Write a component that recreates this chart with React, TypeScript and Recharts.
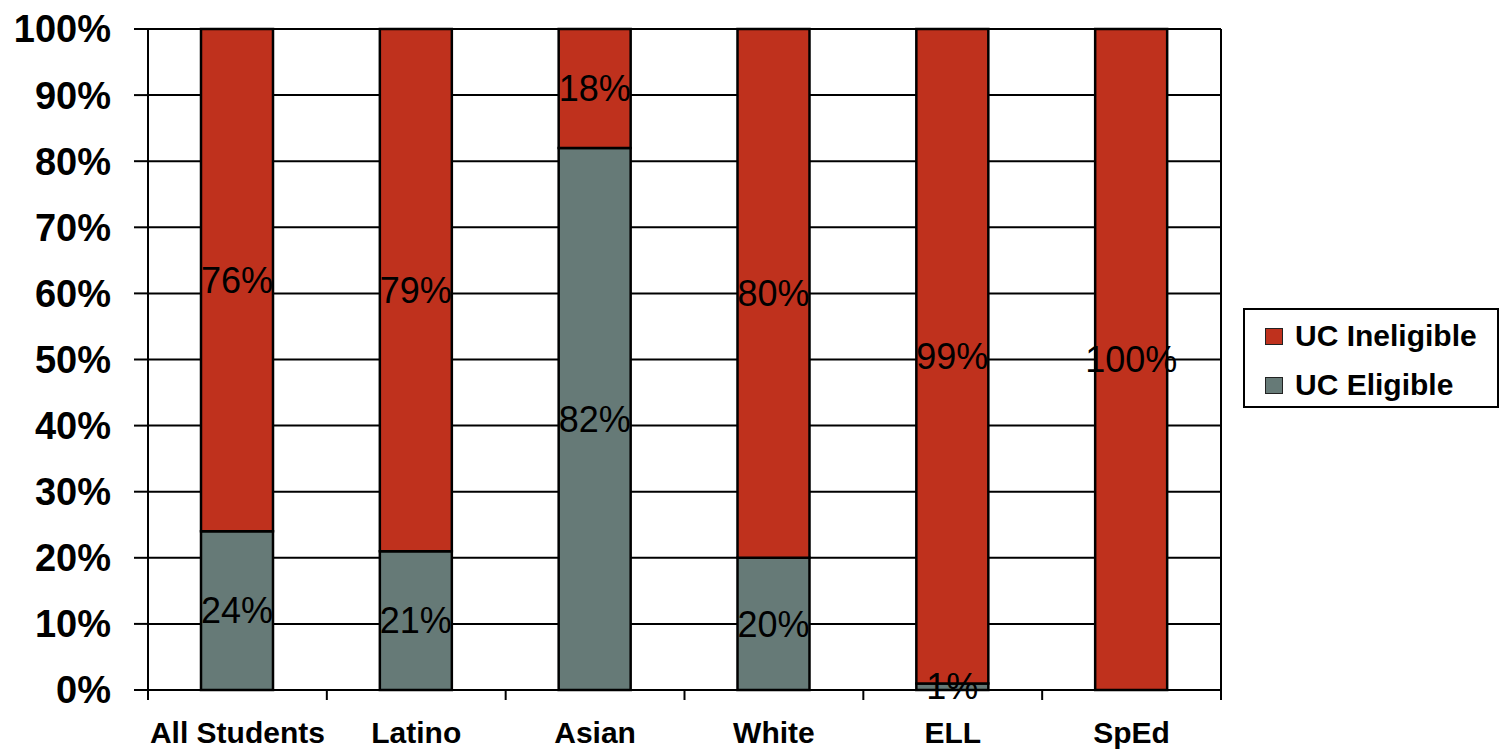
import React from 'react';
import { BarChart, Bar, XAxis, YAxis, CartesianGrid, Legend, LabelList } from 'recharts';

const categories = ['All Students', 'Latino', 'Asian', 'White', 'ELL', 'SpEd'];
const eligible = [24, 21, 82, 20, 1, 0];
const ineligible = [76, 79, 18, 80, 99, 100];
const yTicks = [0, 10, 20, 30, 40, 50, 60, 70, 80, 90, 100];
const seriesNames = { eligible: 'UC Eligible', ineligible: 'UC Ineligible' };

const RED = '#BF311D';
const GRAY = '#667A77';
const FONT = '"Liberation Sans", Arial, Helvetica, sans-serif';

const data = categories.map((c, i) => ({ name: c, eligible: eligible[i], ineligible: ineligible[i] }));

const XTick = (props: any) => {
  const { x, y, payload, index, visibleTicksCount, width } = props;
  const band = (width || 1073) / (visibleTicksCount || categories.length);
  const left = x - band / 2;
  const right = x + band / 2;
  return (
    <g>
      <line x1={left} x2={left} y1={y} y2={y + 10} stroke="#000" strokeWidth={2} />
      {index === (visibleTicksCount || categories.length) - 1 && (
        <line x1={right} x2={right} y1={y} y2={y + 10} stroke="#000" strokeWidth={2} />
      )}
      <text x={x} y={y + 53} textAnchor="middle" fontFamily={FONT} fontWeight="bold" fontSize={30} fill="#000">
        {payload.value}
      </text>
    </g>
  );
};

const LegendBox = () => (
  <div
    style={{
      position: 'absolute',
      left: 1243,
      top: 308,
      width: 256,
      height: 100,
      boxSizing: 'border-box',
      border: '2px solid #000',
      background: '#fff',
      fontFamily: FONT,
      fontWeight: 'bold',
      fontSize: 30,
      color: '#000',
    }}
  >
    {[
      { name: seriesNames.ineligible, color: RED, top: 26 },
      { name: seriesNames.eligible, color: GRAY, top: 75 },
    ].map((r) => (
      <div key={r.name} style={{ position: 'absolute', left: 20, top: r.top - 18, height: 36, display: 'flex', alignItems: 'center', whiteSpace: 'nowrap' }}>
        <span style={{ display: 'inline-block', width: 16, height: 15, background: r.color, border: '1px solid #222', marginRight: 12 }} />
        <span>{r.name}</span>
      </div>
    ))}
  </div>
);

const labelFmt = (v: any) => (v ? `${v}%` : '');

export default function App() {
  return (
    <div style={{ position: 'absolute', left: 0, top: 0, width: 1500, height: 752, background: '#fff' }}>
      <BarChart width={1500} height={752} data={data} margin={{ top: 29, right: 0, bottom: 0, left: 0 }} barSize={72}>
        <CartesianGrid vertical={false} stroke="#000" strokeWidth={2} />
        <XAxis
          dataKey="name"
          height={62}
          axisLine={{ stroke: '#000', strokeWidth: 2 }}
          tickLine={false}
          tickSize={0}
          tickMargin={0}
          tick={<XTick />}
          interval={0}
        />
        <YAxis
          domain={[0, 100]}
          ticks={yTicks}
          width={148}
          interval={0}
          tickFormatter={(v: number) => `${v}%`}
          axisLine={{ stroke: '#000', strokeWidth: 2 }}
          tickLine={{ stroke: '#000', strokeWidth: 2 }}
          tickSize={14}
          tickMargin={23}
          tick={{ fontFamily: FONT, fontWeight: 'bold', fontSize: 38, fill: '#000' }}
        />
        <YAxis
          yAxisId="right"
          orientation="right"
          domain={[0, 100]}
          width={279}
          tick={false}
          tickLine={false}
          axisLine={{ stroke: '#000', strokeWidth: 2 }}
        />
        <Legend content={<LegendBox />} wrapperStyle={{ position: 'absolute', left: 0, top: 0, width: 0, height: 0 }} />
        <Bar dataKey="eligible" name={seriesNames.eligible} stackId="a" fill={GRAY} stroke="#000" strokeWidth={2.5} isAnimationActive={false}>
          <LabelList dataKey="eligible" position="center" formatter={labelFmt} fontFamily={FONT} fontSize={36} fill="#000" />
        </Bar>
        <Bar dataKey="ineligible" name={seriesNames.ineligible} stackId="a" fill={RED} stroke="#000" strokeWidth={2.5} isAnimationActive={false}>
          <LabelList dataKey="ineligible" position="center" formatter={labelFmt} fontFamily={FONT} fontSize={36} fill="#000" />
        </Bar>
      </BarChart>
    </div>
  );
}
